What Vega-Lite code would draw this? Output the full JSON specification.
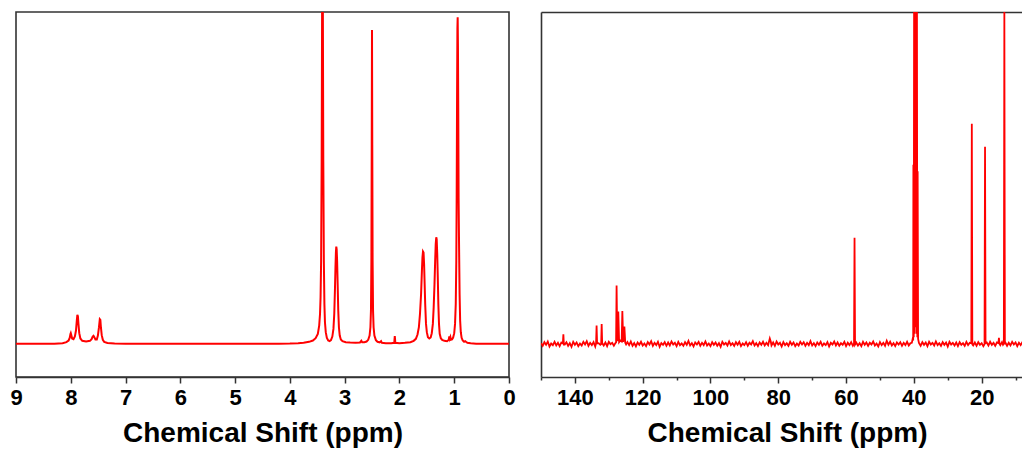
{
  "$schema": "https://vega.github.io/schema/vega-lite/v6.json",
  "padding": {"left": 9, "top": 10, "right": 0, "bottom": 0},
  "autosize": {"type": "pad"},
  "background": "white",
  "bounds": "flush",
  "spacing": 32,
  "config": {
    "view": {"stroke": "#333333", "strokeWidth": 1.6},
    "axis": {"domainColor": "#333333", "domainWidth": 1.6, "tickColor": "#333333", "tickWidth": 1.5, "grid": false,
      "labelFont": "Liberation Sans", "labelFontWeight": "bold", "labelFontSize": 22, "labelColor": "#000000",
      "titleFont": "Liberation Sans", "titleFontWeight": "bold", "titleFontSize": 28, "titleColor": "#000000"}
  },
  "datasets": {
    "h": [
      {"p":9.0,"i":0},{"p":8.6,"i":0},{"p":8.3,"i":0.05},{"p":8.15,"i":0.2},{"p":8.08,"i":0.5},{"p":8.04,"i":1.0},{"p":8.02,"i":1.8},{"p":8.005,"i":3.0},{"p":8.0,"i":3.2},{"p":7.99,"i":2.6},{"p":7.975,"i":1.6},{"p":7.95,"i":1.4},{"p":7.925,"i":2.2},{"p":7.905,"i":4.0},{"p":7.89,"i":7.0},{"p":7.88,"i":8.7},{"p":7.87,"i":8.3},{"p":7.86,"i":6.0},{"p":7.845,"i":3.2},{"p":7.825,"i":1.6},{"p":7.79,"i":0.9},{"p":7.72,"i":0.7},{"p":7.65,"i":0.9},{"p":7.62,"i":1.4},{"p":7.6,"i":2.2},{"p":7.585,"i":2.4},{"p":7.57,"i":2.0},{"p":7.55,"i":1.3},{"p":7.525,"i":1.3},{"p":7.505,"i":2.5},{"p":7.485,"i":5.0},{"p":7.47,"i":7.4},{"p":7.46,"i":7.2},{"p":7.45,"i":5.0},{"p":7.435,"i":2.6},{"p":7.415,"i":1.2},{"p":7.39,"i":0.6},{"p":7.33,"i":0.25},{"p":7.2,"i":0.1},{"p":7.0,"i":0.05},{"p":6.5,"i":0},{"p":6.0,"i":0},{"p":5.5,"i":0},{"p":5.0,"i":0},{"p":4.5,"i":0},{"p":4.2,"i":0.05},{"p":4.0,"i":0.1},{"p":3.85,"i":0.2},{"p":3.75,"i":0.35},{"p":3.65,"i":0.6},{"p":3.58,"i":1.0},{"p":3.53,"i":1.7},{"p":3.49,"i":3.0},{"p":3.465,"i":5.5},{"p":3.45,"i":9},{"p":3.44,"i":14},{"p":3.43,"i":25},{"p":3.42,"i":55},{"p":3.412,"i":100.5},{"p":3.405,"i":100.5},{"p":3.398,"i":100.5},{"p":3.39,"i":55},{"p":3.38,"i":25},{"p":3.37,"i":12},{"p":3.36,"i":6.5},{"p":3.345,"i":3.5},{"p":3.325,"i":1.8},{"p":3.3,"i":1.0},{"p":3.275,"i":0.8},{"p":3.25,"i":1.1},{"p":3.225,"i":2.2},{"p":3.205,"i":4.5},{"p":3.19,"i":9},{"p":3.178,"i":16},{"p":3.168,"i":23},{"p":3.16,"i":27.5},{"p":3.153,"i":29.3},{"p":3.146,"i":28.5},{"p":3.138,"i":25},{"p":3.128,"i":18},{"p":3.117,"i":10},{"p":3.105,"i":5},{"p":3.09,"i":2.5},{"p":3.07,"i":1.3},{"p":3.04,"i":0.8},{"p":2.98,"i":0.5},{"p":2.9,"i":0.4},{"p":2.8,"i":0.35},{"p":2.72,"i":0.4},{"p":2.695,"i":0.9},{"p":2.68,"i":0.5},{"p":2.64,"i":0.5},{"p":2.6,"i":0.7},{"p":2.57,"i":1.2},{"p":2.545,"i":2.5},{"p":2.53,"i":5},{"p":2.52,"i":10},{"p":2.512,"i":25},{"p":2.506,"i":60},{"p":2.501,"i":94.6},{"p":2.496,"i":60},{"p":2.49,"i":25},{"p":2.482,"i":10},{"p":2.472,"i":5},{"p":2.457,"i":2.5},{"p":2.43,"i":1.1},{"p":2.4,"i":0.6},{"p":2.36,"i":0.4},{"p":2.335,"i":0.8},{"p":2.32,"i":0.3},{"p":2.25,"i":0.2},{"p":2.15,"i":0.2},{"p":2.095,"i":0.3},{"p":2.085,"i":2.3},{"p":2.075,"i":0.3},{"p":2.0,"i":0.2},{"p":1.9,"i":0.3},{"p":1.8,"i":0.5},{"p":1.74,"i":0.9},{"p":1.7,"i":1.5},{"p":1.67,"i":2.8},{"p":1.645,"i":5},{"p":1.625,"i":9},{"p":1.605,"i":15},{"p":1.59,"i":22},{"p":1.58,"i":26},{"p":1.57,"i":27.8},{"p":1.56,"i":27.5},{"p":1.55,"i":24},{"p":1.54,"i":18},{"p":1.53,"i":12},{"p":1.515,"i":6},{"p":1.5,"i":3.5},{"p":1.48,"i":2.0},{"p":1.455,"i":1.6},{"p":1.43,"i":1.9},{"p":1.41,"i":3.2},{"p":1.39,"i":6},{"p":1.375,"i":11},{"p":1.36,"i":18},{"p":1.348,"i":25},{"p":1.338,"i":30},{"p":1.328,"i":32.1},{"p":1.32,"i":31.5},{"p":1.31,"i":27},{"p":1.3,"i":20},{"p":1.29,"i":12},{"p":1.278,"i":6},{"p":1.265,"i":3},{"p":1.245,"i":1.7},{"p":1.22,"i":1.2},{"p":1.18,"i":0.9},{"p":1.13,"i":0.8},{"p":1.1,"i":1.2},{"p":1.09,"i":2.2},{"p":1.08,"i":1.5},{"p":1.07,"i":2.0},{"p":1.06,"i":1.2},{"p":1.04,"i":1.3},{"p":1.02,"i":1.9},{"p":1.0,"i":3.2},{"p":0.985,"i":6},{"p":0.972,"i":12},{"p":0.962,"i":25},{"p":0.955,"i":45},{"p":0.948,"i":75},{"p":0.942,"i":95},{"p":0.937,"i":98.4},{"p":0.932,"i":90},{"p":0.926,"i":70},{"p":0.92,"i":44},{"p":0.912,"i":30},{"p":0.902,"i":15},{"p":0.892,"i":7},{"p":0.88,"i":3.5},{"p":0.865,"i":1.8},{"p":0.845,"i":1.0},{"p":0.82,"i":0.6},{"p":0.8,"i":0.8},{"p":0.785,"i":0.6},{"p":0.76,"i":0.3},{"p":0.7,"i":0.15},{"p":0.6,"i":0.05},{"p":0.4,"i":0},{"p":0.0,"i":0}
    ],
    "c": [
      {"p":150,"i":0.2},{"p":149.5,"i":-0.6},{"p":149,"i":0.5},{"p":148.5,"i":-0.3},{"p":148,"i":0.7},{"p":147.5,"i":-0.8},{"p":147,"i":0.1},{"p":146.5,"i":-0.4},{"p":146,"i":0.6},{"p":145.5,"i":-0.5},{"p":145,"i":0.3},{"p":144.5,"i":-0.7},{"p":144,"i":0.4},
      {"p":143.55,"i":0.1},{"p":143.4,"i":2.9},{"p":143.25,"i":-0.2},
      {"p":143,"i":-0.2},{"p":142.5,"i":0.5},{"p":142,"i":-0.6},{"p":141.5,"i":0.2},{"p":141,"i":-0.9},{"p":140.5,"i":0.6},{"p":140,"i":-0.3},{"p":139.5,"i":0.4},{"p":139,"i":-0.7},{"p":138.5,"i":0.1},{"p":138,"i":-0.5},{"p":137.5,"i":0.6},{"p":137,"i":-0.2},{"p":136.5,"i":0.8},{"p":136,"i":-0.6},{"p":135.5,"i":0.3},{"p":135,"i":-0.4},{"p":134.5,"i":0.5},{"p":134,"i":-0.8},
      {"p":133.75,"i":0.2},{"p":133.6,"i":5.5},{"p":133.45,"i":0.1},
      {"p":133,"i":0.2},{"p":132.5,"i":-0.3},
      {"p":132.25,"i":-0.1},{"p":132.1,"i":6.0},{"p":131.95,"i":0.2},
      {"p":131.5,"i":-0.5},{"p":131,"i":0.4},{"p":130.5,"i":-0.7},{"p":130,"i":0.6},{"p":129.5,"i":-0.1},{"p":129,"i":0.3},{"p":128.5,"i":-0.6},
      {"p":128.05,"i":0.2},{"p":127.85,"i":0.4},{"p":127.7,"i":17.6},{"p":127.5,"i":0.8},{"p":127.2,"i":9.7},{"p":126.95,"i":0.5},{"p":126.6,"i":1.0},{"p":126.2,"i":0.7},{"p":126.0,"i":9.9},{"p":125.75,"i":0.6},{"p":125.4,"i":5.2},{"p":125.15,"i":0.3},{"p":124.9,"i":-0.2},
      {"p":124.5,"i":0.5},{"p":124,"i":-0.4},{"p":123.5,"i":0.7},{"p":123,"i":-0.6},{"p":122.5,"i":0.2},{"p":122,"i":-0.8},{"p":121.5,"i":0.4},{"p":121,"i":-0.3},{"p":120.5,"i":0.6},{"p":120,"i":-0.5},{"p":119.5,"i":0.1},{"p":119,"i":-0.7},{"p":118.5,"i":0.5},{"p":118,"i":-0.2},{"p":117.5,"i":0.8},{"p":117,"i":-0.6},{"p":116.5,"i":0.3},{"p":116,"i":-0.4},{"p":115.5,"i":0.6},{"p":115,"i":-0.9},{"p":114.5,"i":0.2},{"p":114,"i":-0.3},{"p":113.5,"i":0.5},{"p":113,"i":-0.6},{"p":112.5,"i":0.4},{"p":112,"i":-0.5},{"p":111.5,"i":0.7},{"p":111,"i":-0.2},{"p":110.5,"i":0.3},{"p":110,"i":-0.7},{"p":109.5,"i":0.6},{"p":109,"i":-0.4},{"p":108.5,"i":0.1},{"p":108,"i":-0.6},{"p":107.5,"i":0.5},{"p":107,"i":-0.3},{"p":106.5,"i":0.9},{"p":106,"i":-0.5},{"p":105.5,"i":0.2},{"p":105,"i":-0.8},{"p":104.5,"i":0.4},{"p":104,"i":-0.2},{"p":103.5,"i":0.6},{"p":103,"i":-0.6},{"p":102.5,"i":0.3},{"p":102,"i":-0.4},{"p":101.5,"i":0.7},{"p":101,"i":-0.5},{"p":100.5,"i":0.1},{"p":100,"i":-0.7},{"p":99.5,"i":0.5},{"p":99,"i":-0.3},{"p":98.5,"i":0.4},{"p":98,"i":-0.6},{"p":97.5,"i":0.2},{"p":97,"i":-0.9},{"p":96.5,"i":0.6},{"p":96,"i":-0.2},{"p":95.5,"i":0.3},{"p":95,"i":-0.5},{"p":94.5,"i":0.7},{"p":94,"i":-0.4},{"p":93.5,"i":0.2},{"p":93,"i":-0.6},{"p":92.5,"i":0.5},{"p":92,"i":-0.3},{"p":91.5,"i":0.6},{"p":91,"i":-0.7},{"p":90.5,"i":0.1},{"p":90,"i":-0.4},{"p":89.5,"i":0.5},{"p":89,"i":-0.6},{"p":88.5,"i":0.3},{"p":88,"i":-0.2},{"p":87.5,"i":0.8},{"p":87,"i":-0.5},{"p":86.5,"i":0.2},{"p":86,"i":-0.7},{"p":85.5,"i":0.4},{"p":85,"i":-0.3},{"p":84.5,"i":0.6},{"p":84,"i":-0.5},{"p":83.5,"i":0.3},{"p":83,"i":-0.4},
      {"p":82.8,"i":0.4},{"p":82.5,"i":1.6},{"p":82.2,"i":0.6},
      {"p":82,"i":-0.5},{"p":81.5,"i":0.4},{"p":81,"i":-0.6},{"p":80.5,"i":0.7},{"p":80,"i":-0.2},{"p":79.5,"i":0.3},{"p":79,"i":-0.8},{"p":78.5,"i":0.5},{"p":78,"i":-0.4},{"p":77.5,"i":0.2},{"p":77,"i":-0.6},{"p":76.5,"i":0.6},{"p":76,"i":-0.3},{"p":75.5,"i":0.4},{"p":75,"i":-0.7},{"p":74.5,"i":0.1},{"p":74,"i":-0.5},{"p":73.5,"i":0.6},{"p":73,"i":-0.2},{"p":72.5,"i":0.5},{"p":72,"i":-0.6},{"p":71.5,"i":0.3},{"p":71,"i":-0.4},{"p":70.5,"i":0.8},{"p":70,"i":-0.5},{"p":69.5,"i":0.2},{"p":69,"i":-0.7},{"p":68.5,"i":0.4},{"p":68,"i":-0.3},{"p":67.5,"i":0.6},{"p":67,"i":-0.6},{"p":66.5,"i":0.1},{"p":66,"i":-0.4},{"p":65.5,"i":0.5},{"p":65,"i":-0.8},{"p":64.5,"i":0.3},{"p":64,"i":-0.2},{"p":63.5,"i":0.7},{"p":63,"i":-0.5},{"p":62.5,"i":0.4},{"p":62,"i":-0.6},{"p":61.5,"i":0.2},{"p":61,"i":-0.3},{"p":60.5,"i":0.6},{"p":60,"i":-0.7},{"p":59.5,"i":0.3},{"p":59,"i":-0.4},{"p":58.5,"i":0.5},{"p":58,"i":-0.6},
      {"p":57.65,"i":0.1},{"p":57.5,"i":32.0},{"p":57.35,"i":-0.2},
      {"p":57,"i":0.4},{"p":56.5,"i":-0.5},{"p":56,"i":0.2},{"p":55.5,"i":-0.7},{"p":55,"i":0.6},{"p":54.5,"i":-0.3},{"p":54,"i":0.4},{"p":53.5,"i":-0.6},{"p":53,"i":0.3},{"p":52.5,"i":-0.2},{"p":52,"i":0.7},{"p":51.5,"i":-0.5},{"p":51,"i":0.1},{"p":50.5,"i":-0.8},{"p":50,"i":0.5},{"p":49.5,"i":-0.4},{"p":49,"i":0.3},{"p":48.5,"i":-0.6},{"p":48,"i":0.9},{"p":47.5,"i":-0.3},{"p":47,"i":0.6},{"p":46.5,"i":-0.5},{"p":46,"i":0.2},{"p":45.5,"i":-0.7},{"p":45,"i":0.4},{"p":44.5,"i":-0.2},{"p":44,"i":0.5},{"p":43.5,"i":-0.6},{"p":43,"i":0.3},{"p":42.5,"i":-0.4},{"p":42,"i":0.6},{"p":41.5,"i":-0.5},{"p":41,"i":0.2},
      {"p":40.6,"i":0.3},{"p":40.35,"i":1.5},{"p":40.2,"i":1.0},{"p":40.14,"i":54},{"p":40.03,"i":2},{"p":39.93,"i":100.5},{"p":39.82,"i":3},{"p":39.72,"i":100.5},{"p":39.61,"i":5},{"p":39.51,"i":100.5},{"p":39.4,"i":5},{"p":39.3,"i":100.5},{"p":39.19,"i":3},{"p":39.09,"i":100.5},{"p":38.98,"i":2},{"p":38.88,"i":52},{"p":38.75,"i":1.5},{"p":38.5,"i":0.3},
      {"p":38,"i":-0.6},{"p":37.5,"i":0.5},{"p":37,"i":-0.3},{"p":36.5,"i":0.4},{"p":36,"i":-0.7},{"p":35.5,"i":0.6},{"p":35,"i":-0.2},{"p":34.5,"i":0.3},{"p":34,"i":-0.5},{"p":33.5,"i":0.7},{"p":33,"i":-0.4},{"p":32.5,"i":0.2},{"p":32,"i":-0.6},{"p":31.5,"i":0.5},{"p":31,"i":-0.3},{"p":30.5,"i":0.4},{"p":30,"i":-0.8},{"p":29.5,"i":0.6},{"p":29,"i":-0.2},{"p":28.5,"i":0.3},{"p":28,"i":-0.5},{"p":27.5,"i":0.4},{"p":27,"i":-0.7},{"p":26.5,"i":0.5},{"p":26,"i":-0.3},{"p":25.5,"i":0.2},{"p":25,"i":-0.6},{"p":24.5,"i":0.6},{"p":24,"i":-0.4},{"p":23.5,"i":0.3},
      {"p":23.05,"i":0.2},{"p":22.9,"i":66.3},{"p":22.75,"i":-0.2},
      {"p":22.5,"i":-0.5},{"p":22,"i":0.4},{"p":21.5,"i":-0.6},{"p":21,"i":0.5},{"p":20.5,"i":-0.3},{"p":20,"i":0.2},{"p":19.5,"i":-0.7},
      {"p":19.15,"i":-0.1},{"p":19.0,"i":59.4},{"p":18.85,"i":0.2},
      {"p":18.5,"i":0.4},{"p":18,"i":-0.5},{"p":17.5,"i":0.6},{"p":17,"i":-0.3},{"p":16.5,"i":0.3},{"p":16,"i":-0.6},{"p":15.5,"i":0.4},
      {"p":15.05,"i":0.2},{"p":14.9,"i":1.8},{"p":14.75,"i":0.0},
      {"p":14.5,"i":-0.4},{"p":14,"i":0.5},{"p":13.7,"i":-0.3},
      {"p":13.45,"i":0.1},{"p":13.3,"i":100.5},{"p":13.15,"i":-0.1},
      {"p":13,"i":0.4},{"p":12.5,"i":-0.6},{"p":12,"i":0.3},{"p":11.5,"i":-0.5},{"p":11,"i":0.6},{"p":10.5,"i":-0.2},{"p":10,"i":0.4},{"p":9.5,"i":-0.7},{"p":9,"i":0.3},{"p":8.5,"i":-0.4},{"p":8,"i":0.5},{"p":7.8,"i":-0.2}
    ]
  },
  "hconcat": [
    {
      "width": 493,
      "height": 365,
      "data": {"name": "h"},
      "mark": {"type": "line", "color": "#ff0000", "strokeWidth": 2, "clip": true},
      "encoding": {
        "x": {"field": "p", "type": "quantitative",
          "scale": {"domain": [0, 9], "reverse": true, "nice": false, "zero": false},
          "axis": {"values": [9, 8.5, 8, 7.5, 7, 6.5, 6, 5.5, 5, 4.5, 4, 3.5, 3, 2.5, 2, 1.5, 1, 0.5, 0],
            "format": "d",
            "labelExpr": "datum.value % 1 === 0 ? datum.label : ''",
            "tickSize": {"condition": {"test": "datum.value % 1 === 0", "value": 6}, "value": 3},
            "labelPadding": 4, "labelOverlap": false, "labelFlush": false,
            "title": "Chemical Shift (ppm)", "titlePadding": 11}},
        "y": {"field": "i", "type": "quantitative",
          "scale": {"domain": [-10, 100], "nice": false, "zero": false}, "axis": null}
      }
    },
    {
      "width": 482,
      "height": 365,
      "data": {"name": "c"},
      "view": {"stroke": null},
      "layer": [
        {
          "mark": {"type": "line", "color": "#ff0000", "strokeWidth": 1.8, "clip": true},
          "encoding": {
            "x": {"field": "p", "type": "quantitative",
              "scale": {"domain": [7.8, 150], "reverse": true, "nice": false, "zero": false},
              "axis": {"values": [150, 140, 130, 120, 110, 100, 90, 80, 70, 60, 50, 40, 30, 20, 10],
                "format": "d",
                "labelExpr": "datum.value % 20 === 0 ? datum.label : ''",
                "tickSize": {"condition": {"test": "datum.value % 20 === 0", "value": 6}, "value": 3},
                "labelPadding": 4, "labelOverlap": false, "labelFlush": false,
                "title": "Chemical Shift (ppm)", "titlePadding": 11, "titleX": 246}},
            "y": {"field": "i", "type": "quantitative",
              "scale": {"domain": [-10, 100], "nice": false, "zero": false},
              "axis": {"domain": true, "ticks": false, "labels": false, "title": null, "grid": false}}
          }
        },
        {
          "mark": {"type": "line", "opacity": 0},
          "encoding": {
            "x": {"field": "p", "type": "quantitative",
              "axis": {"orient": "top", "labels": false, "ticks": false, "title": null, "domain": true}},
            "y": {"field": "i", "type": "quantitative", "axis": null}
          }
        }
      ],
      "resolve": {"axis": {"x": "independent", "y": "independent"}}
    }
  ]
}
